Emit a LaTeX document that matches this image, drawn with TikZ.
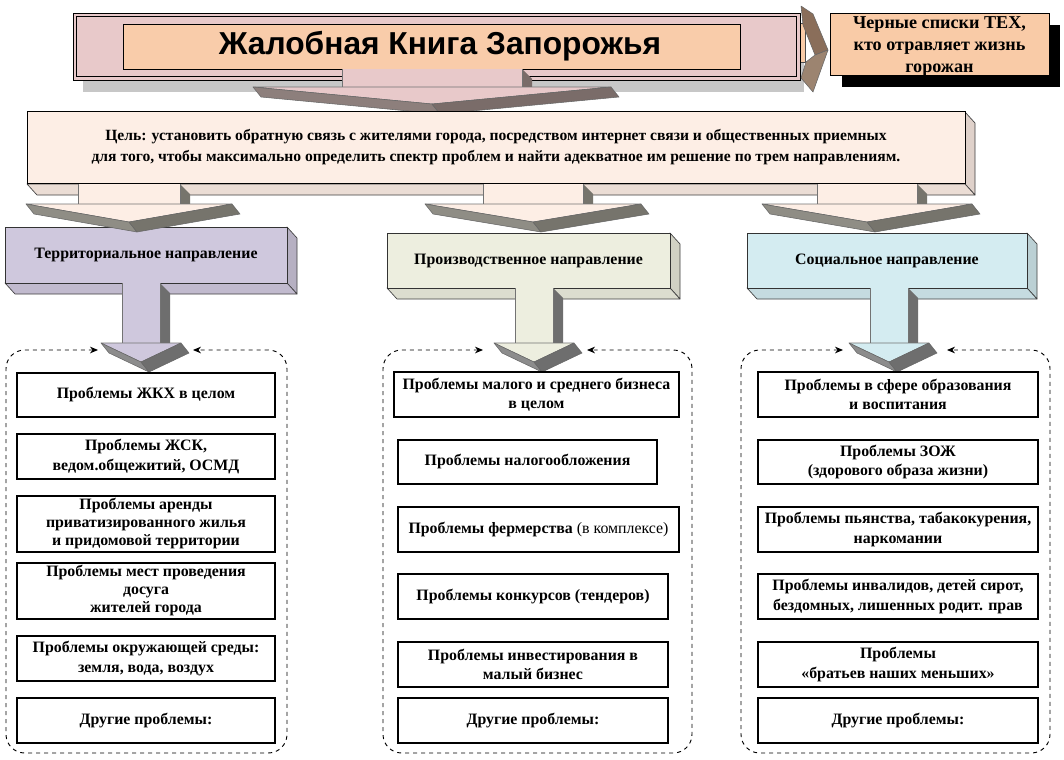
\documentclass[tikz,border=0pt]{standalone}
\usepackage{fontspec}
\setmainfont{Liberation Serif}
\newfontfamily\titlefont{Liberation Sans}
\usetikzlibrary{arrows.meta}
\definecolor{titlepink}{HTML}{E8C9CA}
\definecolor{titlepeach}{HTML}{F9CCAA}
\definecolor{goalfill}{HTML}{FDEEE5}
\definecolor{terrfill}{HTML}{CFC8DD}
\definecolor{prodfill}{HTML}{EDEEDF}
\definecolor{socfill}{HTML}{D4ECF1}
\definecolor{blackpeach}{HTML}{F9CBA7}
\definecolor{faceA}{HTML}{8D7F7C}
\definecolor{faceB}{HTML}{7A6C69}
\definecolor{faceC}{HTML}{8F8D85}
\definecolor{faceD}{HTML}{76746C}
\definecolor{faceE}{HTML}{8C8C8C}
\definecolor{faceF}{HTML}{6E6E6E}
\definecolor{brownA}{HTML}{8A6E5A}
\definecolor{brownB}{HTML}{9C8470}
\newcommand{\extrudebox}[5]{%
  \filldraw[fill=#5!88!black, draw=black!75, line width=0.5pt, line join=round]
    (#3,#2) -- (#3+10,#2+11) -- (#3+10,#4+11) -- (#3,#4) -- cycle;
  \filldraw[fill=#5!93!black, draw=black!75, line width=0.5pt, line join=round]
    (#1,#4) -- (#3,#4) -- (#3+10,#4+11) -- (#1+10,#4+11) -- cycle;
}
\newcommand{\blockdown}[9]{%
  \fill[#9] (#1+#2,#3) -- (#1+#2+10,#3+10) -- (#1+#2+10,#4) -- (#1+#2,#4) -- cycle;
  \fill[#7] (#1-#2,#3) rectangle (#1+#2,#4+1);
  \draw[black!55, line width=0.4pt] (#1-#2,#3) -- (#1-#2,#4) (#1+#2,#3) -- (#1+#2,#4);
  \filldraw[fill=#7, draw=black!55, line width=0.4pt, line join=round]
    (#1-#5,#4) -- (#1+#5,#4) -- (#1,#6) -- cycle;
  \filldraw[fill=#8, draw=black!60, line width=0.4pt, line join=round]
    (#1-#5,#4) -- (#1,#6) -- (#1+8,#6+10) -- (#1-#5+8,#4+10) -- cycle;
  \filldraw[fill=#9, draw=black!60, line width=0.4pt, line join=round]
    (#1,#6) -- (#1+#5,#4) -- (#1+#5+8,#4+10) -- (#1+8,#6+10) -- cycle;
}
\tikzset{
  wh/.style 2 args={minimum width=#1*0.75pt, minimum height=#2*0.75pt},
  pbox/.style={draw=black, line width=0.8pt, fill=white, align=center, inner sep=0pt,
    font=\bfseries\fontsize{11.9}{14.6}\selectfont},
  dirbox/.style={draw=black!80, line width=0.6pt, align=center, inner sep=0pt,
    font=\bfseries\fontsize{11.9}{14}\selectfont},
  cont/.style={dashed, line width=0.7pt, rounded corners=14pt,
    {Stealth[length=6pt,width=5pt]}-{Stealth[length=6pt,width=5pt]}},
}
\begin{document}
\begin{tikzpicture}[x=0.75pt,y=-0.75pt]
\useasboundingbox (0,0) rectangle (1064,760);
\fill[white] (0,0) rectangle (1064,760);

% ---------- title ----------
\fill[black!22] (83,25) rectangle (804,92);
\filldraw[fill=blackpeach, draw=black!70, line width=0.5pt] (790,23) rectangle (805,62);
\node[draw=black, line width=0.6pt, fill=titlepink, wh={727}{67}, inner sep=0pt] (titleouter) at (436.5,46.5) {};
\draw[black, line width=0.6pt] (76.5,16.5) rectangle (796.5,76.5);
\node[draw=black, line width=0.6pt, fill=titlepeach, wh={617}{45}, inner sep=0pt] (titleinner) at (431.5,46.5) {};
\node[font=\titlefont\bfseries\fontsize{23.8}{26}\selectfont] (title) at (440,46) {Жалобная Книга Запорожья};
\blockdown{432}{90}{69}{87}{179}{104}{titlepink}{faceA}{faceB}

% right arrow to black list box
\filldraw[fill=brownA, draw=black!60, line width=0.4pt, line join=round]
  (801,6) -- (813,14) -- (828,50) -- (815,55) -- (803,25) -- cycle;
\filldraw[fill=brownB, draw=black!60, line width=0.4pt, line join=round]
  (815,55) -- (828,50) -- (813,92) -- (801,78) -- (806,62) -- cycle;

% black list box
\fill[black] (842,25) rectangle (1060,87);
\node[draw=black, line width=0.6pt, fill=blackpeach, wh={219}{62}, inner sep=0pt, align=center,
  font=\bfseries\fontsize{13.6}{16.5}\selectfont] (blacklist) at (939.5,44) {};
\node[align=center, inner sep=0pt, font=\bfseries\fontsize{13.6}{16.5}\selectfont] (blacktext) at (939.5,46)
  {Черные списки ТЕХ,\\кто отравляет жизнь\\горожан};

% ---------- goal ----------
\extrudebox{27}{112}{965}{184}{goalfill}
\node[draw=black, line width=0.6pt, fill=goalfill, wh={938}{72}, inner sep=0pt, align=center,
  font=\bfseries\fontsize{11.7}{15.8}\selectfont] (goal) at (496,147.5)
  {Цель: установить обратную связь с жителями города, посредством интернет связи и общественных приемных\\
   для того, чтобы максимально определить спектр проблем и найти адекватное им решение по трем направлениям.};

% ---------- direction boxes ----------
\extrudebox{5}{227}{287}{283}{terrfill}
\node[dirbox, fill=terrfill, wh={282}{56}] (terr) at (146,255) {Территориальное направление};
\extrudebox{387}{233}{670}{288}{prodfill}
\node[dirbox, fill=prodfill, wh={283}{55}] (prod) at (528.5,260.5) {Производственное направление};
\extrudebox{747}{233}{1027}{288}{socfill}
\node[dirbox, fill=socfill, wh={280}{55}] (soc) at (887,260.5) {Социальное направление};

% goal -> directions
\blockdown{129}{51}{184}{204}{103}{222}{goalfill}{faceC}{faceD}
\blockdown{533}{50}{184}{204}{108}{222}{goalfill}{faceC}{faceD}
\blockdown{867}{50}{184}{204}{105}{222}{goalfill}{faceC}{faceD}

% directions -> columns
\blockdown{141}{19}{283}{343}{40}{362}{terrfill}{faceE}{faceF}
\blockdown{534}{19}{288}{343}{40}{362}{prodfill}{faceE}{faceF}
\blockdown{889}{19}{288}{343}{40}{362}{socfill}{faceE}{faceF}

% ---------- containers ----------
\coordinate (c1l) at (98,350);  \coordinate (c1r) at (193,350);
\coordinate (c2l) at (483,350); \coordinate (c2r) at (587,350);
\coordinate (c3l) at (843,350); \coordinate (c3r) at (947,350);
\draw[cont] (c1l) -- (6,350) -- (6,753) -- (287,753) -- (287,350) -- (c1r);
\draw[cont] (c2l) -- (383,350) -- (383,753) -- (692,753) -- (692,350) -- (c2r);
\draw[cont] (c3l) -- (741,350) -- (741,753) -- (1050,753) -- (1050,350) -- (c3r);

% ---------- left column ----------
\node[pbox, wh={258}{44}] (t1) at (146,395) {Проблемы ЖКХ в целом};
\node[pbox, wh={258}{45}] (t2) at (146,456.5) {Проблемы ЖСК,\\ведом.общежитий, ОСМД};
\node[pbox, wh={258}{56}, font=\bfseries\fontsize{11.9}{13.5}\selectfont] (t3) at (146,524) {Проблемы аренды\\приватизированного жилья\\и придомовой территории};
\node[pbox, wh={258}{56}, font=\bfseries\fontsize{11.9}{13.5}\selectfont] (t4) at (146,591) {Проблемы мест проведения\\досуга\\жителей города};
\node[pbox, wh={258}{45}] (t5) at (146,658.5) {Проблемы окружающей среды:\\земля, вода, воздух};
\node[pbox, wh={258}{45}] (t6) at (146,720.5) {Другие проблемы:};

% ---------- middle column ----------
\node[pbox, wh={285}{45}] (m1) at (536.5,394.5) {Проблемы малого и среднего бизнеса\\в целом};
\node[pbox, wh={259}{44}] (m2) at (527.5,462) {Проблемы налогообложения};
\node[pbox, wh={281}{45}] (m3) at (538.5,529.5) {Проблемы фермерства {\mdseries (в комплексе)}};
\node[pbox, wh={270}{45}] (m4) at (533,596.5) {Проблемы конкурсов (тендеров)};
\node[pbox, wh={270}{45}] (m5) at (533,664.5) {Проблемы инвестирования в\\малый бизнес};
\node[pbox, wh={270}{45}] (m6) at (533,720.5) {Другие проблемы:};

% ---------- right column ----------
\node[pbox, wh={280}{45}] (s1) at (898,394.5) {Проблемы в сфере образования\\и воспитания};
\node[pbox, wh={280}{44}] (s2) at (898,462) {Проблемы ЗОЖ\\(здорового образа жизни)};
\node[pbox, wh={280}{45}] (s3) at (898,529.5) {Проблемы пьянства, табакокурения,\\наркомании};
\node[pbox, wh={280}{45}] (s4) at (898,596.5) {Проблемы инвалидов, детей сирот,\\бездомных, лишенных родит. прав};
\node[pbox, wh={280}{45}] (s5) at (898,664.5) {Проблемы\\«братьев наших меньших»};
\node[pbox, wh={280}{45}] (s6) at (898,720.5) {Другие проблемы:};
\end{tikzpicture}
\end{document}
